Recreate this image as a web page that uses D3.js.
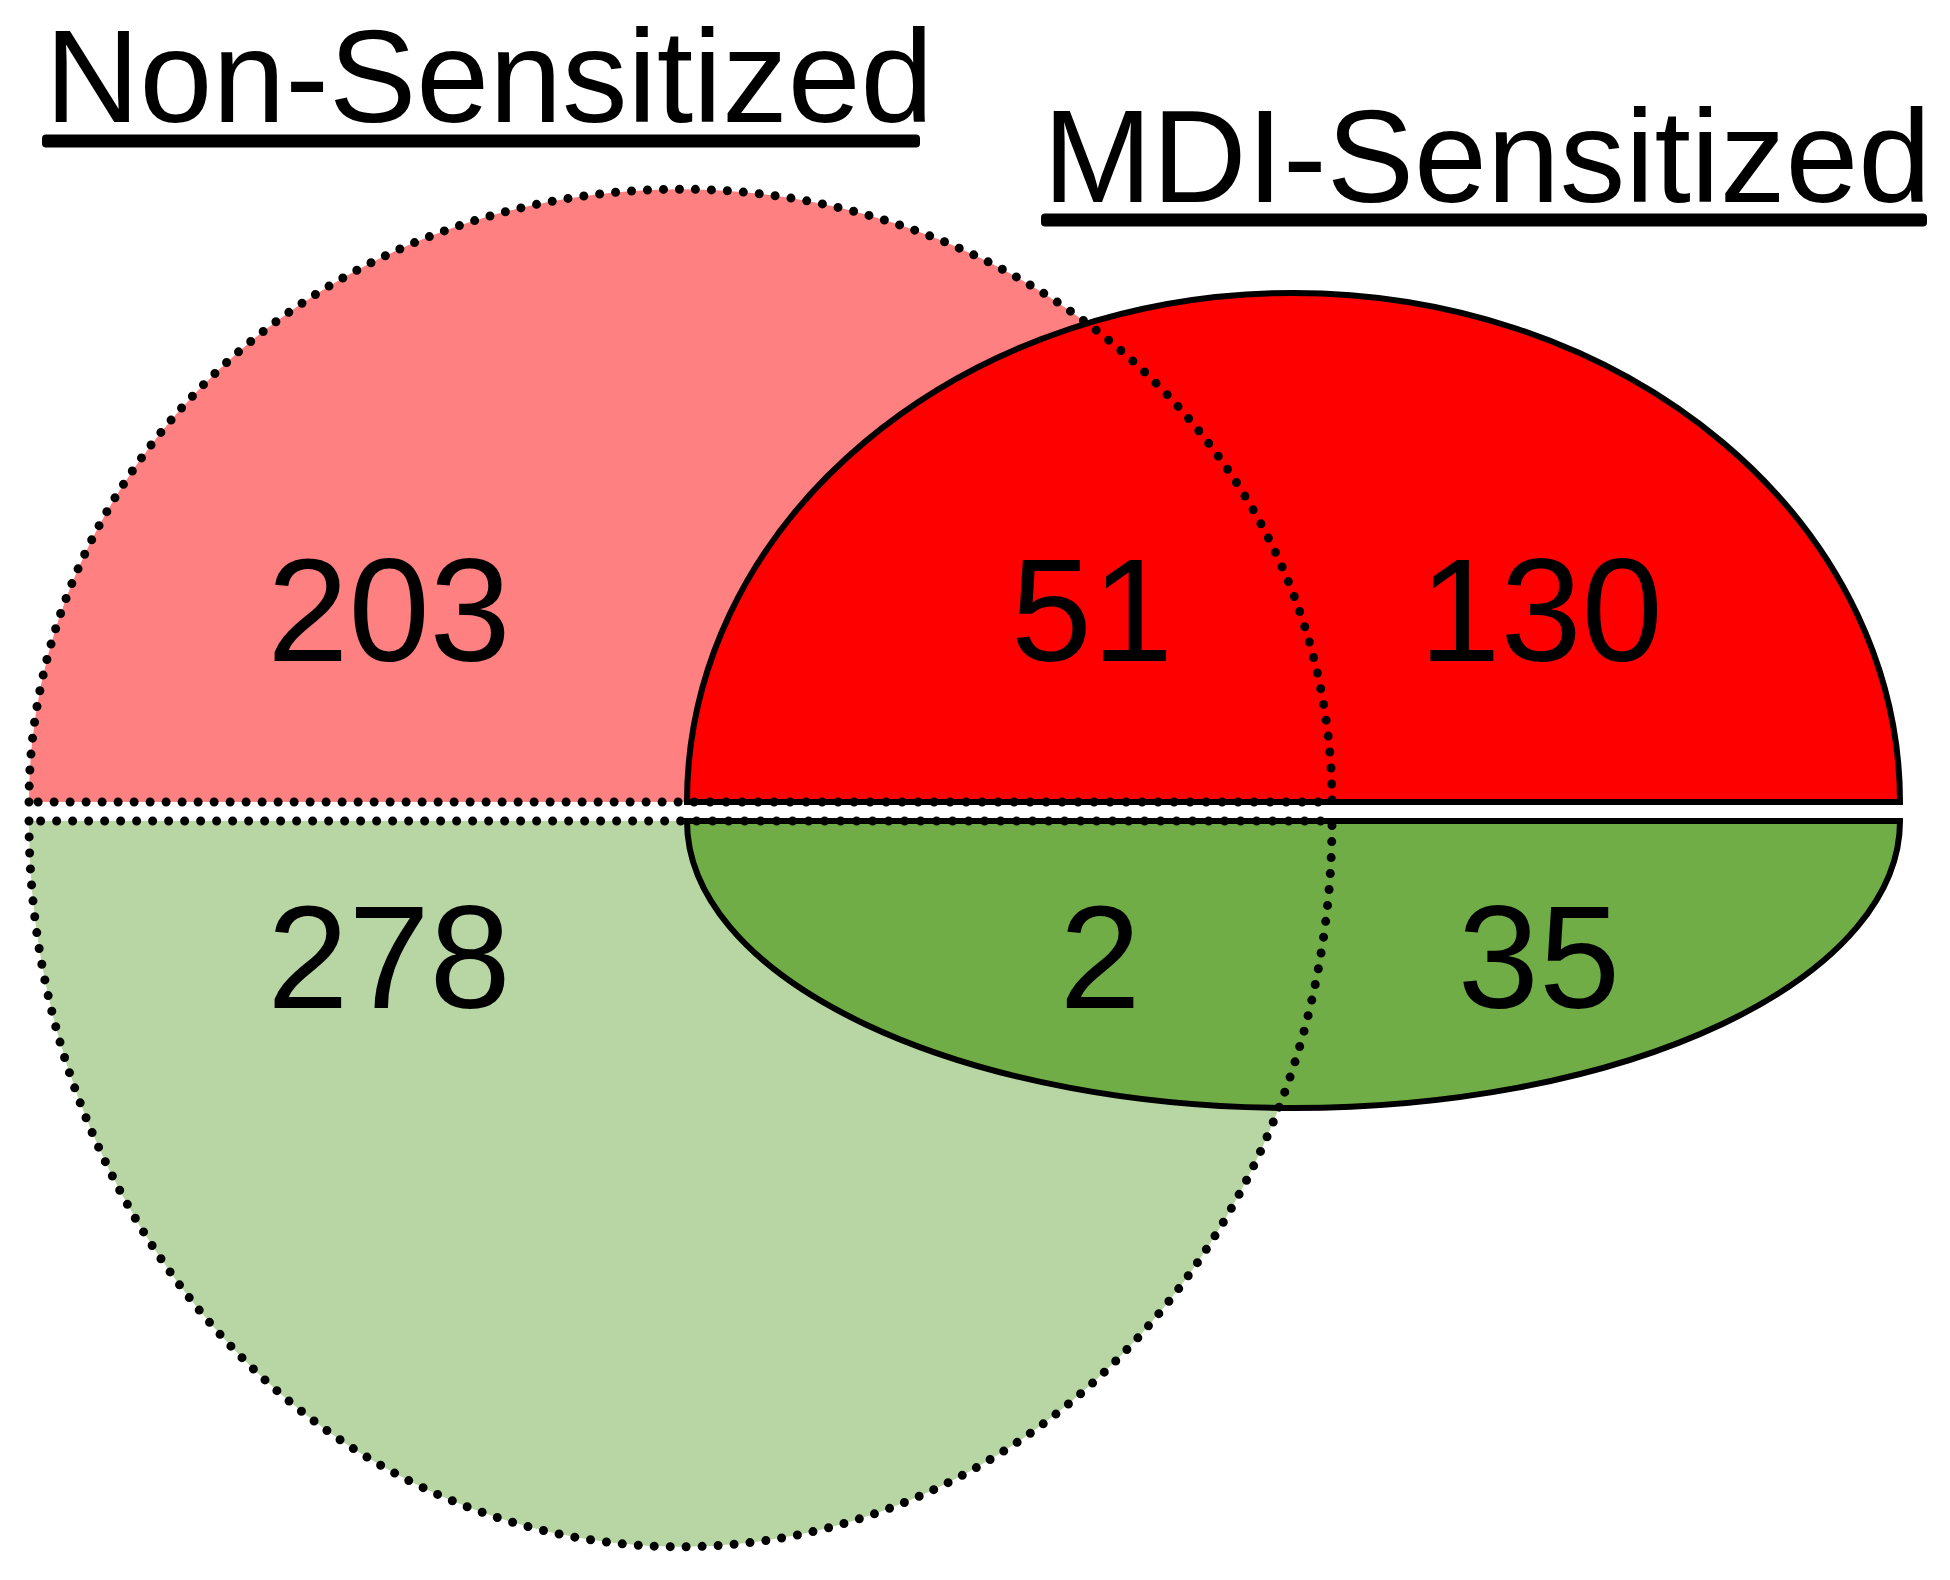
<!DOCTYPE html>
<html>
<head>
<meta charset="utf-8">
<script src="https://cdn.jsdelivr.net/npm/d3@7"></script>
<style>
  html, body { margin: 0; padding: 0; background: #fff; }
  svg { display: block; }
  text { font-family: "Liberation Sans", Arial, sans-serif; }
</style>
</head>
<body>
<svg id="chart" width="1950" height="1580"></svg>
<script>
// ---- data ----
const sets = ["Non-Sensitized", "MDI-Sensitized"];
const directions = ["up", "down"];
const regions = ["nsOnly", "both", "mdiOnly"];
const upCounts = [203, 51, 130];
const downCounts = [278, 2, 35];

// ---- layout (geometry, not data) ----
const W = 1950, H = 1580;
const splitTop = 802, splitBottom = 821;
const ellipses = {
  "Non-Sensitized": { cx: 680.5, rx: 651.5, ryUp: 613, ryDown: 726 },
  "MDI-Sensitized": { cx: 1293.5, rx: 606.5, ryUp: 509, ryDown: 287 }
};
const fill = d3.scaleOrdinal()
  .domain(["Non-Sensitized|up", "Non-Sensitized|down", "MDI-Sensitized|up", "MDI-Sensitized|down"])
  .range(["#FF8080", "#B7D6A3", "#FF0000", "#70AD47"]);
const labelX = d3.scaleOrdinal().domain(regions).range([389, 1092, 1541]);
const labelXDown = d3.scaleOrdinal().domain(regions).range([389, 1100, 1539]);
const labelY = d3.scaleOrdinal().domain(directions).range([661, 1008]);

const svg = d3.select("#chart");
svg.append("rect").attr("width", W).attr("height", H).attr("fill", "#fff");

function halfEllipse(set, dir) {
  const e = ellipses[set];
  const y = dir === "up" ? splitTop : splitBottom;
  const ry = dir === "up" ? e.ryUp : e.ryDown;
  const sweep = dir === "up" ? 1 : 0;
  return `M${e.cx - e.rx},${y} A${e.rx},${ry} 0 0 ${sweep} ${e.cx + e.rx},${y} Z`;
}

const halves = [];
sets.forEach(s => directions.forEach(d => halves.push({ set: s, dir: d })));

// fills: NS first, MDI on top with solid outline
svg.append("g").selectAll("path")
  .data(halves)
  .join("path")
  .attr("d", d => halfEllipse(d.set, d.dir))
  .attr("fill", d => fill(d.set + "|" + d.dir))
  .attr("stroke", d => d.set === "MDI-Sensitized" ? "#000" : "none")
  .attr("stroke-width", 6)
  .attr("stroke-linejoin", "miter");

// dotted outline of the non-sensitized set on top
svg.append("g").selectAll("path")
  .data(halves.filter(d => d.set === "Non-Sensitized"))
  .join("path")
  .attr("d", d => halfEllipse(d.set, d.dir))
  .attr("fill", "none")
  .attr("stroke", "#000")
  .attr("stroke-width", 9)
  .attr("stroke-linecap", "round")
  .attr("stroke-dasharray", "0 16");

// counts
const labels = [];
regions.forEach((r, i) => {
  labels.push({ x: labelX(r), y: labelY("up"), v: upCounts[i] });
  labels.push({ x: labelXDown(r), y: labelY("down"), v: downCounts[i] });
});
svg.append("g").selectAll("text")
  .data(labels)
  .join("text")
  .attr("x", d => d.x)
  .attr("y", d => d.y)
  .attr("text-anchor", "middle")
  .attr("font-size", 146)
  .attr("fill", "#000")
  .text(d => d.v);

// titles with underline
const titlePos = d3.scaleOrdinal().domain(sets).range([
  { x: 45, y: 122, ux0: 42, ux1: 920, uy: 141 },
  { x: 1043, y: 202, ux0: 1041, ux1: 1927, uy: 220 }
]);
const tg = svg.append("g").selectAll("g").data(sets).join("g");
tg.append("text")
  .attr("x", d => titlePos(d).x)
  .attr("y", d => titlePos(d).y)
  .attr("font-size", 131)
  .attr("fill", "#000")
  .text(d => d);
tg.append("rect")
  .attr("x", d => titlePos(d).ux0)
  .attr("y", d => titlePos(d).uy - 6.5)
  .attr("width", d => titlePos(d).ux1 - titlePos(d).ux0)
  .attr("height", 13)
  .attr("rx", 4)
  .attr("fill", "#000");
</script>
</body>
</html>
